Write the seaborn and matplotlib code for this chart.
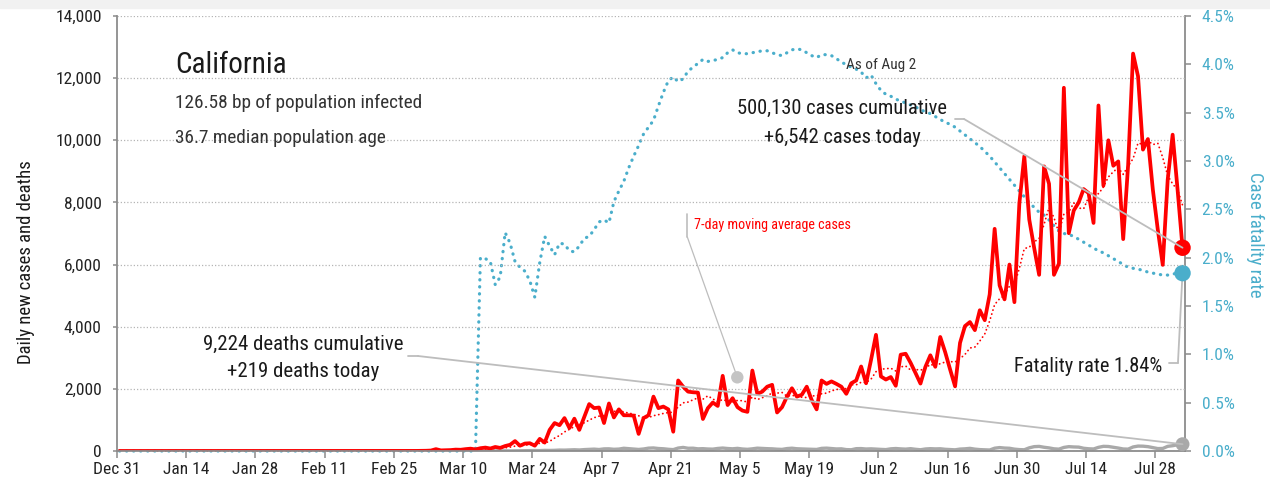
import matplotlib
matplotlib.use("Agg")
import matplotlib.pyplot as plt
import matplotlib.ticker as mticker
from matplotlib import font_manager
from matplotlib.patches import Rectangle
import numpy as np
import pandas as pd
import seaborn as sns

# ---------------- data (daily, starting Dec 31 2019) ----------------
START = "2019-12-31"
X_END = "2020-08-03"

cases_jan_feb = [0] * 26 + [1, 0, 0, 0, 0, 1, 0, 1, 0, 0, 0, 0, 0, 0, 0,
                            1, 0, 0, 0, 0, 0, 0, 0, 0, 0, 0, 1, 0, 0, 0]
cases_early_mar = [1, 0, 2, 1, 3, 5, 8, 15, 60, 20, 25, 30, 45, 40, 60, 75,
                   50, 90, 110, 80, 130]
cases_main = [
    100, 160, 200, 320, 170, 240, 250, 170, 390, 270,
    680, 900, 830, 1060, 740, 1040, 680, 1100, 1510, 1380,
    1400, 900, 1530, 1080, 1340, 1150, 1150, 1140, 550, 1060,
    1150, 1750, 1380, 1430, 1340, 620, 2270, 2070, 1910, 1890,
    1880, 1030, 1380, 1560, 1450, 2420, 1480, 1700, 1410, 1300,
    1260, 2590, 1840, 1910, 2070, 2130, 1240, 1410, 1750, 2020,
    1750, 1810, 2070, 1640, 1340, 2270, 2160, 2240, 2160, 2070,
    1840, 2180, 2270, 2720, 2180, 2930, 3740, 2400, 2300, 2380,
    2100, 3100, 3130, 2840, 2510, 2170, 2710, 3080, 2710, 3670,
    3180, 2620, 2080, 3480, 4020, 4150, 3890, 4530, 4210, 5040,
    7150, 5330, 4880, 6000, 4790, 7970, 9490, 7450, 6530, 5670,
    9160, 8600, 5670, 6030, 11690, 7010, 7740, 8000, 8430, 8300,
    7340, 11120, 8540, 10000, 9180, 9320, 6820, 9210, 12790, 12060,
    9700, 10040, 8410, 7120, 5990, 8730, 10180, 8410, 6542,
]
cases = cases_jan_feb + cases_early_mar + cases_main

deaths_before = [0] * 63
deaths_main = [
    1, 0, 0, 1, 0, 0, 1, 0, 1, 1,
    2, 1, 3, 2, 4, 5, 3,
    6, 8, 10, 12, 15, 13, 20,
    18, 22, 30, 28, 35, 40, 33,
    45, 52, 60, 48, 68, 70, 55,
    62, 88, 75, 60, 50, 65, 92,
    98, 80, 72, 55, 45, 95, 115,
    88, 90, 70, 75, 64, 60, 82,
    95, 80, 71, 85, 64, 54, 70,
    91, 82, 75, 70, 58, 52, 78,
    90, 73, 66, 60, 56, 50, 85,
    92, 80, 66, 70, 45, 40, 75,
    78, 64, 70, 60, 52, 45, 70,
    80, 68, 60, 75, 55, 40, 65,
    75, 68, 72, 55, 48, 38, 62,
    70, 85, 60, 45, 38, 32, 90,
    110, 95, 88, 60, 45, 40, 102,
    140, 148, 120, 100, 70, 60, 115,
    140, 130, 125, 88, 72, 65, 118,
    150, 145, 120, 95, 65, 60, 130,
    158, 155, 140, 110, 78, 82, 150,
    170, 200, 219,
]
deaths = deaths_before + deaths_main

cfr_before = [0.0] * 73
cfr_main = [
    2.00, 1.99, 1.96, 1.72, 1.80, 2.26, 2.15, 1.96, 1.90, 1.86,
    1.76, 1.59, 1.95, 2.22, 2.12, 2.03, 2.15, 2.14, 2.07, 2.06,
    2.12, 2.20, 2.22, 2.29, 2.37, 2.39, 2.36, 2.58, 2.69, 2.79,
    2.93, 3.05, 3.16, 3.28, 3.35, 3.42, 3.57, 3.71, 3.83, 3.87,
    3.82, 3.85, 3.93, 3.97, 4.01, 4.05, 4.03, 4.04, 4.05, 4.07,
    4.12, 4.15, 4.12, 4.11, 4.11, 4.12, 4.13, 4.14, 4.14, 4.12,
    4.10, 4.09, 4.12, 4.15, 4.16, 4.15, 4.12, 4.09, 4.07, 4.10,
    4.10, 4.09, 4.06, 4.02, 4.00, 3.97, 3.95, 3.92, 3.86, 3.89,
    3.80, 3.73, 3.69, 3.67, 3.64, 3.62, 3.60, 3.58, 3.56, 3.53,
    3.51, 3.49, 3.46, 3.43, 3.40, 3.38, 3.35, 3.31, 3.27, 3.23,
    3.19, 3.15, 3.10, 3.05, 2.99, 2.93, 2.87, 2.81, 2.75, 2.69,
    2.63, 2.57, 2.52, 2.47, 2.44, 2.39, 2.33, 2.28, 2.25, 2.24,
    2.22, 2.19, 2.16, 2.13, 2.10, 2.07, 2.05, 2.02, 1.99, 1.96,
    1.93, 1.90, 1.89, 1.88, 1.87, 1.85, 1.84, 1.83, 1.82, 1.82,
    1.83, 1.84, 1.84,
]
cfr = cfr_before + cfr_main

STATE = "California"
INFO_LINES = ["126.58 bp of population infected", "36.7 median population age"]
AS_OF = "As of Aug 2"
CASES_CUM = 500130
DEATHS_CUM = 9224

TICK_DATES = pd.date_range("2019-12-31", "2020-07-28", freq="14D")
LEFT_TICKS = [0, 2000, 4000, 6000, 8000, 10000, 12000, 14000]
RIGHT_TICKS = [0, 0.5, 1.0, 1.5, 2.0, 2.5, 3.0, 3.5, 4.0, 4.5]

# ---------------- dataframe ----------------
n = len(cases)
dates = pd.date_range(START, periods=n) + pd.Timedelta(hours=12)
df = pd.DataFrame({"date": dates, "cases": cases, "deaths": deaths, "cfr": cfr})
df["ma7"] = df["cases"].rolling(7).mean()

# ---------------- style ----------------
sns.set_theme(style="white")
names = {f.name for f in font_manager.fontManager.ttflist}
FONT = "DejaVu Sans"
for cand in ["Liberation Sans Narrow", "Roboto Condensed", "Roboto"]:
    if cand in names:
        FONT = cand
        break
plt.rcParams["font.family"] = [FONT, "DejaVu Sans"]

TEAL = "#4aaecb"
RED = "#ff0000"
GRAY = "#a9a9a9"
CONN = "#bdbdbd"
AXC = "#8c8c8c"
TXT = "#1a1a1a"

W, H = 1270, 491
fig = plt.figure(figsize=(W / 100, H / 100), dpi=100)
fig.patches.append(Rectangle((0, 1 - 8 / H), 1, 8 / H, transform=fig.transFigure,
                             color="#f1f1f1", zorder=0))
ax = fig.add_axes([117 / W, 40 / H, 1068 / W, 435 / H])
ax2 = ax.twinx()
ax.set_zorder(ax2.get_zorder() + 1)
ax.patch.set_visible(False)

# CFR (right axis)
sns.lineplot(data=df, x="date", y="cfr", ax=ax2, color=TEAL, lw=2.3,
             linestyle=(0, (0.1, 2.1)), dash_capstyle="round", clip_on=False)
last = df.iloc[-1]
ax2.scatter([last["date"]], [last["cfr"]], s=140, color=TEAL, zorder=5, clip_on=False,
            edgecolors="none")

# cases, moving average, deaths (left axis)
sns.lineplot(data=df, x="date", y="deaths", ax=ax, color=GRAY, lw=2.4, zorder=3)
sns.lineplot(data=df, x="date", y="cases", ax=ax, color=RED, lw=2.7, zorder=4)
sns.lineplot(data=df, x="date", y="ma7", ax=ax, color=RED, lw=1.3,
             linestyle=(0, (0.1, 2.2)), dash_capstyle="round", clip_on=False, zorder=5)
ax.scatter([last["date"]], [last["cases"]], s=140, color=RED, zorder=8, clip_on=False,
           edgecolors="none")
ax.scatter([last["date"]], [last["deaths"]], s=100, color=GRAY, zorder=8, clip_on=False,
           edgecolors="none")

# ---------------- axes ----------------
ax.set_xlim(pd.Timestamp(START), pd.Timestamp(X_END))
ax.set_ylim(0, 14000)
ax2.set_ylim(0, 4.5)
ax.set_yticks(LEFT_TICKS)
ax2.set_yticks(RIGHT_TICKS)
ax.set_xticks(TICK_DATES)
ax.set_xticklabels([f"{d.strftime('%b')} {d.day}" for d in TICK_DATES])
ax.yaxis.set_major_formatter(mticker.FuncFormatter(lambda v, p: f"{int(v):,}"))
ax2.yaxis.set_major_formatter(mticker.FuncFormatter(lambda v, p: f"{v:.1f}%"))
ax.set_xlabel("")
ax.set_ylabel("")
ax2.set_ylabel("")

ax.yaxis.grid(True, color="#b5b5b5", linestyle=(0, (1, 1.6)), linewidth=0.9)
ax.xaxis.grid(False)
ax2.grid(False)
ax.set_axisbelow(True)

for a in (ax, ax2):
    for s in a.spines.values():
        s.set_visible(False)
ax.spines["left"].set_visible(True)
ax.spines["bottom"].set_visible(True)
ax2.spines["right"].set_visible(True)
for s in (ax.spines["left"], ax.spines["bottom"], ax2.spines["right"]):
    s.set_color(AXC)
    s.set_linewidth(1.3)
ax.spines["bottom"].set_zorder(6)

ax.tick_params(axis="y", which="major", direction="out", length=3, width=1.1, color=AXC,
               pad=8, labelsize=12.5, labelcolor="#222222", left=True)
ax.tick_params(axis="x", which="major", direction="out", length=5, width=1.1, color=AXC,
               pad=3, labelsize=12.5, labelcolor="#222222", bottom=True)
ax2.tick_params(axis="y", which="major", direction="out", length=4, width=1.1, color=AXC,
                pad=8, labelsize=12.5, labelcolor=TEAL, right=True)

ax.text(-0.0852, 0.435, "Daily new cases and deaths", transform=ax.transAxes, rotation=90,
        ha="center", va="center", fontsize=13.5, color=TXT)
ax.text(1.0659, 0.4966, "Case fatality rate", transform=ax.transAxes, rotation=270,
        ha="center", va="center", fontsize=13.5, color=TEAL)

# ---------------- annotations ----------------
T = ax.transAxes
ax.text(0.0543, 0.869, STATE, transform=T, fontsize=21, ha="left", va="baseline", color=TXT)
ax.text(0.0543, 0.7885, INFO_LINES[0], transform=T, fontsize=13.9, ha="left", va="baseline",
        color="#333333")
ax.text(0.0543, 0.708, INFO_LINES[1], transform=T, fontsize=13.9, ha="left", va="baseline",
        color="#333333")
ax.text(0.7154, 0.878, AS_OF, transform=T, fontsize=11, ha="center", va="baseline",
        color="#333333", zorder=10)
ax.text(0.679, 0.776, f"{CASES_CUM:,} cases cumulative", transform=T, fontsize=14.8,
        ha="center", va="baseline", color=TXT, zorder=10)
ax.text(0.679, 0.707, f"+{int(last['cases']):,} cases today", transform=T, fontsize=14.8,
        ha="center", va="baseline", color=TXT, zorder=10)
ax.text(0.174, 0.232, f"{DEATHS_CUM:,} deaths cumulative", transform=T, fontsize=15,
        ha="center", va="baseline", color=TXT, zorder=10)
ax.text(0.174, 0.170, f"+{int(last['deaths']):,} deaths today", transform=T, fontsize=15,
        ha="center", va="baseline", color=TXT, zorder=10)
ax.text(0.5403, 0.510, "7-day moving average cases", transform=T, fontsize=10.2,
        ha="left", va="baseline", color=RED, zorder=10)
ax.text(0.9785, 0.1823, f"Fatality rate {last['cfr']:.2f}%", transform=T, fontsize=14.7,
        ha="right", va="baseline", color=TXT, zorder=10)

conn = dict(arrowstyle="-", color=CONN, lw=1.3, shrinkA=0, shrinkB=0)
# cases connector
ax.plot([0.7846, 0.7931], [0.7632, 0.7632], transform=T, color=CONN, lw=1.3, zorder=9,
        clip_on=False)
ax.annotate("", xy=(last["date"], last["cases"]), xycoords="data",
            xytext=(0.7931, 0.7632), textcoords="axes fraction", arrowprops=conn, zorder=9)
# deaths connector
ax.plot([0.2725, 0.2818], [0.2184, 0.2184], transform=T, color=CONN, lw=1.3, zorder=9,
        clip_on=False)
ax.annotate("", xy=(last["date"], last["deaths"]), xycoords="data",
            xytext=(0.2818, 0.2184), textcoords="axes fraction", arrowprops=conn, zorder=9)
# 7-day label leader
ax.plot([0.534, 0.534], [0.5448, 0.492], transform=T, color=CONN, lw=1.2, zorder=9)
ax.plot([0.534, 0.5808], [0.492, 0.1694], transform=T, color=CONN, lw=0.9, zorder=9)
ax.scatter([0.5808], [0.1694], transform=T, s=80, color="#c4c4c4", zorder=9,
           edgecolors="none")
# fatality connector
ax.plot([0.985, 0.9934], [0.2023, 0.2023], transform=T, color=CONN, lw=1.3, zorder=9,
        clip_on=False)
ax2.annotate("", xy=(last["date"], last["cfr"]), xycoords="data",
             xytext=(0.9934, 0.2023), textcoords="axes fraction", arrowprops=conn)

fig.savefig("out.png", dpi=100)
